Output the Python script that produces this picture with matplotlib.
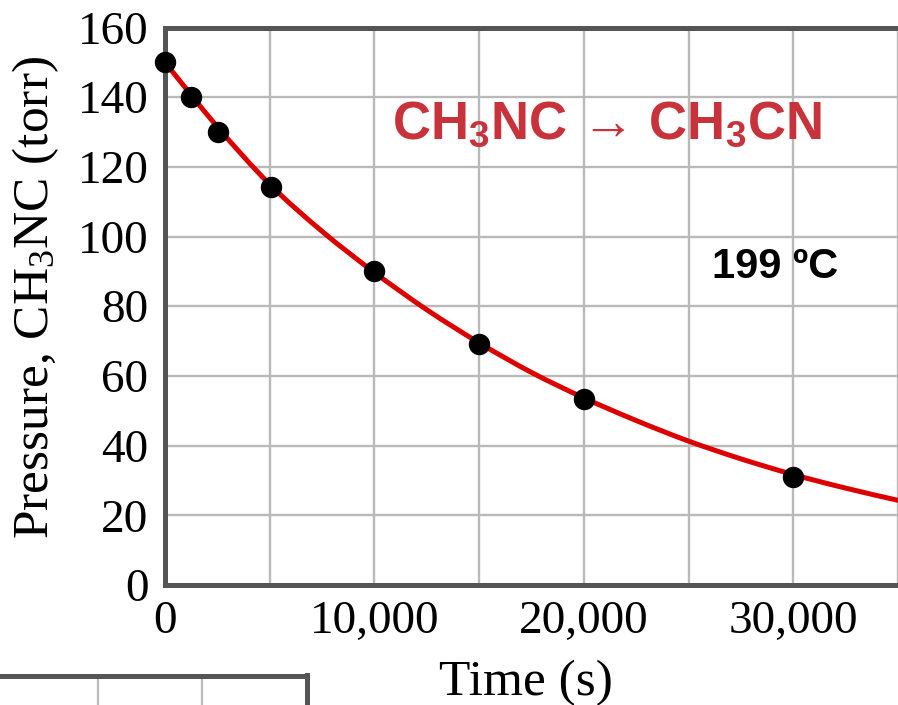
import matplotlib
matplotlib.use("Agg")
import matplotlib.pyplot as plt
from matplotlib.lines import Line2D
from matplotlib.path import Path
from matplotlib.patches import PathPatch

plt.rcParams['mathtext.default'] = 'regular'

# Data
time_s = [0, 1250, 2550, 5050, 10000, 15000, 20000, 30000]
pressure_torr = [150, 140, 130, 114.3, 90, 69.2, 53.4, 31]

# points
curve_t = [0, 2500, 5000, 7500, 10000, 12500, 15000, 17500, 20000,
           22500, 25000, 27500, 30000, 32500, 35000]
curve_p = [150, 131.5, 115, 101.5, 89.7, 79, 69.5, 61, 53.7,
           47.2, 41.3, 36.2, 31.7, 27.8, 24.3]

xticks = [0, 5000, 10000, 15000, 20000, 25000, 30000, 35000]
xtick_labels = ["0", "", "10,000", "", "20,000", "", "30,000", ""]
yticks = [0, 20, 40, 60, 80, 100, 120, 140, 160]

W, H = 898, 705
fig = plt.figure(figsize=(W / 100, H / 100), dpi=100)

left, right, bottom, top = 165, 898, 585, 27.5
ax = fig.add_axes([left / W, 1 - bottom / H, (right - left) / W, (bottom - top) / H])

ax.set_xlim(0, 34760)
ax.set_ylim(0, 160)

ax.set_xticks(xticks)
ax.set_xticklabels(xtick_labels)
ax.set_yticks(yticks)
ax.set_yticklabels([str(v) for v in yticks])
ax.grid(True, color='#b9b9b9', lw=1.7, zorder=0)
ax.set_axisbelow(True)

serif = ['Liberation Serif', 'DejaVu Serif']
for lab in ax.get_xticklabels() + ax.get_yticklabels():
    lab.set_family(serif)
    lab.set_fontsize(34)
ax.tick_params(axis='both', length=0, colors='black')
ax.tick_params(axis='x', pad=11)
ax.tick_params(axis='y', pad=12)

for s in ['left', 'bottom', 'top']:
    ax.spines[s].set_color('#555555')
    ax.spines[s].set_linewidth(3.6)
ax.spines['right'].set_visible(False)

# smooth curve through the read points (Catmull-Rom drawn as cubic Beziers)
pts = list(zip(curve_t, curve_p))
verts = [pts[0]]
codes = [Path.MOVETO]
n = len(pts)
for i in range(n - 1):
    p0 = pts[i - 1] if i > 0 else pts[i]
    p1 = pts[i]
    p2 = pts[i + 1]
    p3 = pts[i + 2] if i + 2 < n else pts[i + 1]
    c1 = (p1[0] + (p2[0] - p0[0]) / 6, p1[1] + (p2[1] - p0[1]) / 6)
    c2 = (p2[0] - (p3[0] - p1[0]) / 6, p2[1] - (p3[1] - p1[1]) / 6)
    verts += [c1, c2, p2]
    codes += [Path.CURVE4] * 3
curve = PathPatch(Path(verts, codes), facecolor='none', edgecolor='#dd0000',
                  lw=3.6, transform=ax.transData, zorder=3, capstyle='round')
ax.add_patch(curve)

ax.plot(time_s, pressure_torr, 'o', color='black', ms=14.4, zorder=4, clip_on=False)

fig.text(392 / W, 1 - 125 / H, "CH$_3$NC → CH$_3$CN", color='#c8323a',
         fontsize=38, fontweight='bold', family=['Liberation Sans', 'DejaVu Sans'],
         ha='left', va='center')
fig.text(712 / W, 1 - 267 / H, "199 ºC", color='black', fontsize=30,
         fontweight='bold', family=['Liberation Sans', 'DejaVu Sans'],
         ha='left', va='center')

fig.text(36 / W, 1 - 297 / H, "Pressure, CH$_3$NC (torr)", rotation=90,
         family=serif, fontsize=37, ha='center', va='center')
fig.text(526 / W, 1 - 695 / H, "Time (s)", family=serif, fontsize=37,
         ha='center', va='baseline')

# fragment of a table at the bottom left
def px_line(x0, y0, x1, y1, color, lw):
    fig.add_artist(Line2D([x0 / W, x1 / W], [1 - y0 / H, 1 - y1 / H],
                          transform=fig.transFigure, color=color, lw=lw))

px_line(98, 676, 98, 705, '#bbbbbb', 1.6)
px_line(202, 676, 202, 705, '#bbbbbb', 1.6)
px_line(0, 676, 307, 676, '#555555', 3.6)
px_line(307, 674.5, 307, 705, '#555555', 3.6)

fig.savefig("out.png", dpi=100)
